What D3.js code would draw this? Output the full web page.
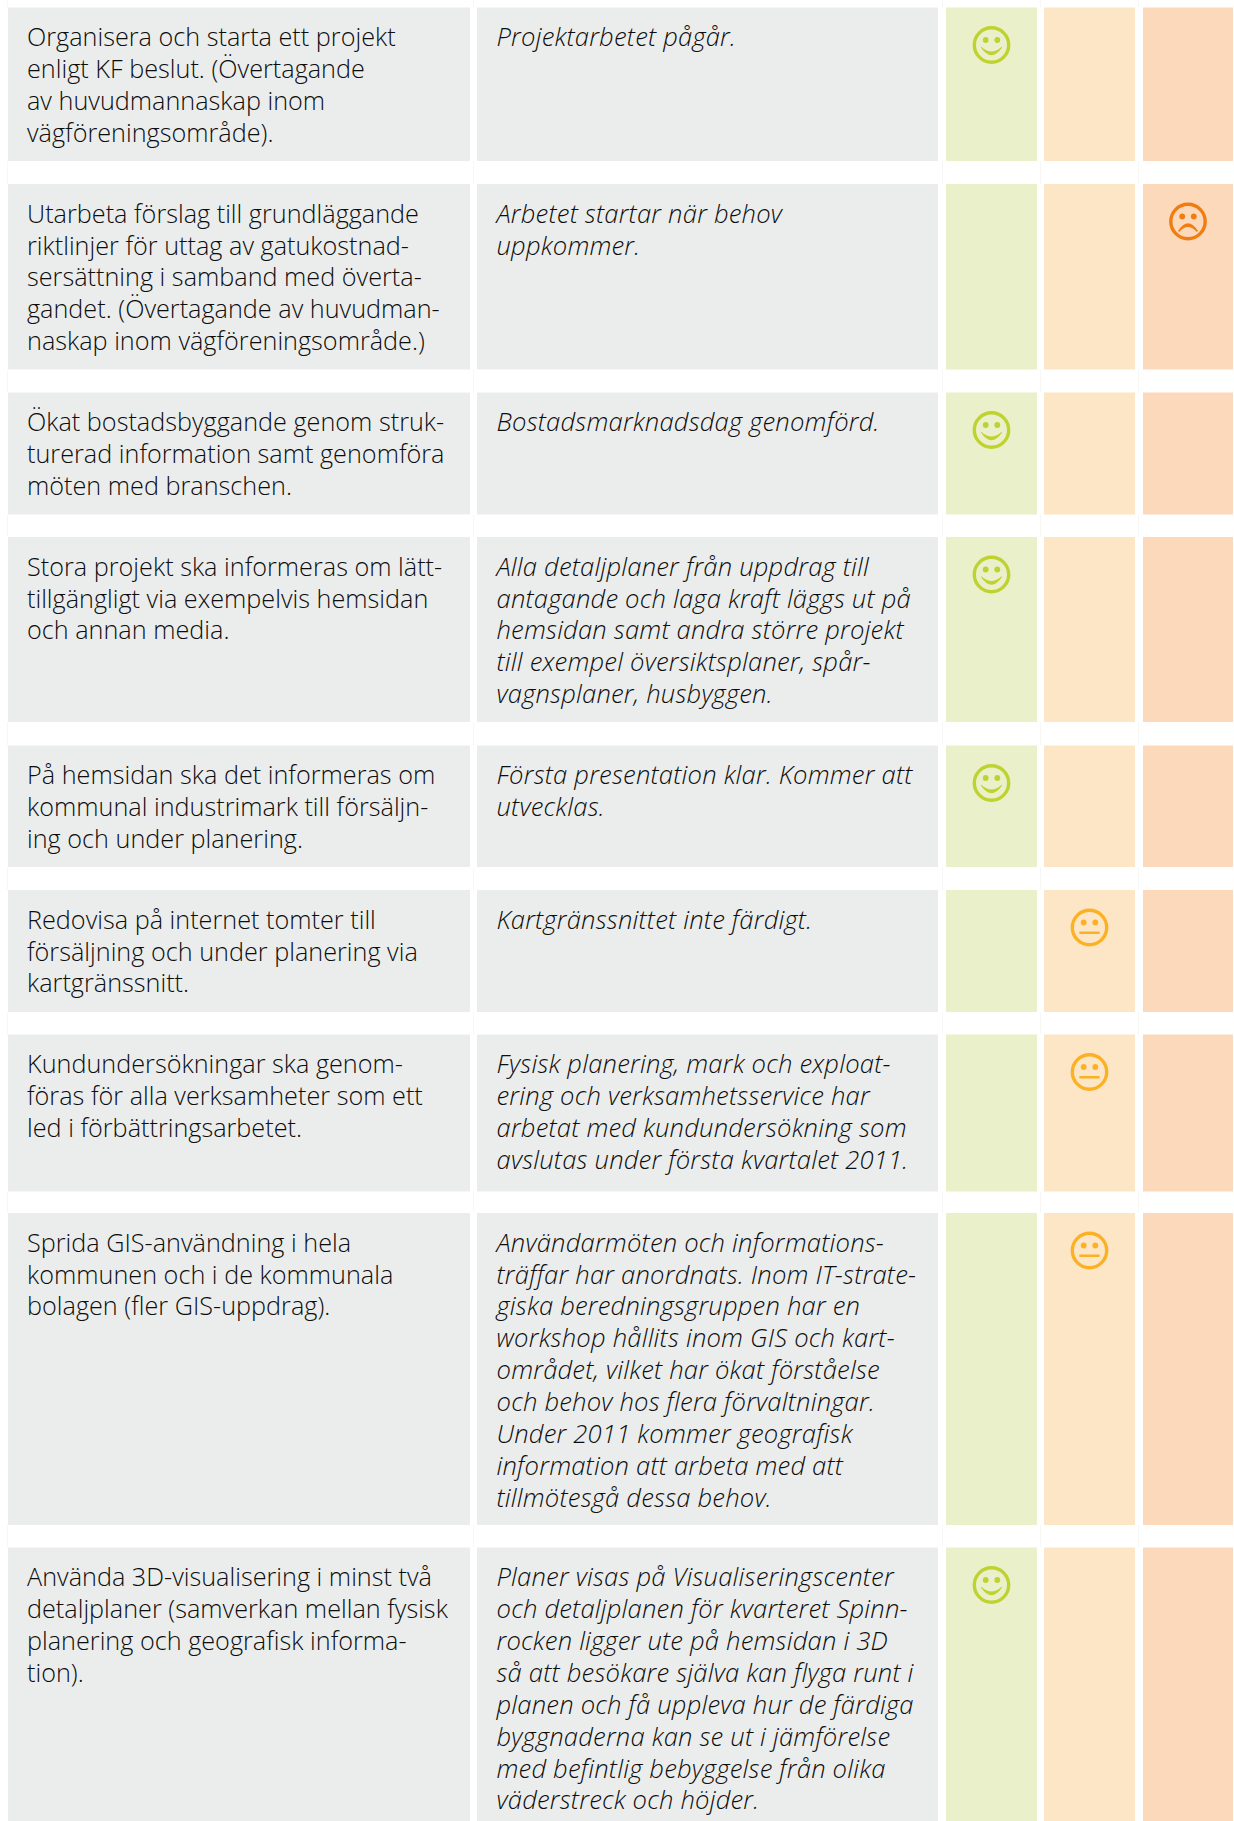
<!DOCTYPE html>
<html><head><meta charset="utf-8">
<script src="https://cdn.jsdelivr.net/npm/d3@7"></script>
<style>html,body{margin:0;padding:0;background:#fff}svg{display:block}</style>
</head><body><div id="chart"></div>
<script>
const goals = [
 ["Organisera och starta ett projekt","enligt KF beslut. (Övertagande","av huvudmannaskap inom","vägföreningsområde)."],
 ["Utarbeta förslag till grundläggande","riktlinjer för uttag av gatukostnad-","sersättning i samband med överta-","gandet. (Övertagande av huvudman-","naskap inom vägföreningsområde.)"],
 ["Ökat bostadsbyggande genom struk-","turerad information samt genomföra","möten med branschen."],
 ["Stora projekt ska informeras om lätt-","tillgängligt via exempelvis hemsidan","och annan media."],
 ["På hemsidan ska det informeras om","kommunal industrimark till försäljn-","ing och under planering."],
 ["Redovisa på internet tomter till","försäljning och under planering via","kartgränssnitt."],
 ["Kundundersökningar ska genom-","föras för alla verksamheter som ett","led i förbättringsarbetet."],
 ["Sprida GIS-användning i hela","kommunen och i de kommunala","bolagen (fler GIS-uppdrag)."],
 ["Använda 3D-visualisering i minst två","detaljplaner (samverkan mellan fysisk","planering och geografisk informa-","tion)."]
];
const comments = [
 ["Projektarbetet pågår."],
 ["Arbetet startar när behov","uppkommer."],
 ["Bostadsmarknadsdag genomförd."],
 ["Alla detaljplaner från uppdrag till","antagande och laga kraft läggs ut på","hemsidan samt andra större projekt","till exempel översiktsplaner, spår-","vagnsplaner, husbyggen."],
 ["Första presentation klar. Kommer att","utvecklas."],
 ["Kartgränssnittet inte färdigt."],
 ["Fysisk planering, mark och exploat-","ering och verksamhetsservice har","arbetat med kundundersökning som","avslutas under första kvartalet 2011."],
 ["Användarmöten och informations-","träffar har anordnats. Inom IT-strate-","giska beredningsgruppen har en","workshop hållits inom GIS och kart-","området, vilket har ökat förståelse","och behov hos flera förvaltningar.","Under 2011 kommer geografisk","information att arbeta med att","tillmötesgå dessa behov."],
 ["Planer visas på Visualiseringscenter","och detaljplanen för kvarteret Spinn-","rocken ligger ute på hemsidan i 3D","så att besökare själva kan flyga runt i","planen och få uppleva hur de färdiga","byggnaderna kan se ut i jämförelse","med befintlig bebyggelse från olika","väderstreck och höjder."]
];
const statusByRow = ["good","bad","good","good","good","mid","mid","mid","good"];

const W = 1234, H = 1821;
const rowTop    = [7.5,184,392.5,537,745.5,890,1034.5,1213,1547.5];
const rowBottom = [161,369.5,514.5,722,867,1012,1191.5,1525,1821];
const columns = [
 {key:"goal",x0:8,x1:470,fill:"#ebeded"},
 {key:"comment",x0:477,x1:938,fill:"#ebeded"},
 {key:"good",x0:946,x1:1037,fill:"#eaf0c9",icon:"#bfd230"},
 {key:"mid",x0:1044,x1:1135,fill:"#fde6c6",icon:"#fbb123"},
 {key:"bad",x0:1143,x1:1233,fill:"#fbd9ba",icon:"#f07d12"}
];
const svg = d3.select("#chart").append("svg").attr("width",W).attr("height",H);

// faint hairlines visible in the white gaps between rows
const gapStarts = [0].concat(rowBottom.slice(0,-1));
const gapEnds = rowTop;
const hairX = [7.5,473.5,942.5,1040.5,1138.5];
const gaps = svg.selectAll("g.gap").data(gapStarts.map((s,i)=>({s,e:gapEnds[i]}))).join("g").attr("class","gap");
hairX.forEach(x=>{
  gaps.append("line").attr("x1",x).attr("x2",x).attr("y1",d=>d.s).attr("y2",d=>d.e)
    .attr("stroke","#f7f7f3").attr("stroke-width",1);
});

const rows = svg.selectAll("g.row").data(goals.map((g,i)=>({g,c:comments[i],s:statusByRow[i],t:rowTop[i],b:rowBottom[i]})))
  .join("g").attr("class","row").attr("transform",d=>`translate(0,${d.t})`);
columns.forEach(col=>{
  rows.append("rect").attr("x",col.x0).attr("width",col.x1-col.x0).attr("y",0).attr("height",d=>d.b-d.t).attr("fill",col.fill);
});
const LH = 31.9;
function textBlock(sel,key,x,style,fs,ls){
  sel.each(function(d){
    const t = d3.select(this).append("text").attr("font-family","'Open Sans','Noto Sans',sans-serif")
      .attr("font-weight",300).attr("font-size",fs).attr("font-style",style).attr("letter-spacing",ls).attr("fill","#0d0d0d");
    t.selectAll("tspan").data(d[key]).join("tspan").attr("x",x).attr("y",(l,i)=>38.6+i*LH).text(l=>l);
  });
}
textBlock(rows,"g",27,"normal",25.2,0.02);
textBlock(rows,"c",496.5,"italic",25.6,0.2);
const R = 17.2, SW = 3.4;
const mouth = {
  good:"M-10.2,1.7 Q0,11.3 10.2,1.7 L10.6,2.6 Q0,18 -10.6,2.6Z",
  mid:"M-10,4.1 L10,4.1 Q10.6,5.3 10,6.5 L-10,6.5 Q-10.6,5.3 -10,4.1Z",
  bad:"M-10,9.5 Q0,-6 10,9.5 L8.8,10.5 Q0,0.3 -8.8,10.5Z"
};
rows.each(function(d){
  const col = columns.find(c=>c.key===d.s), g = d3.select(this).append("g")
    .attr("transform",`translate(${(col.x0+col.x1)/2},37.5)`);
  g.append("circle").attr("r",R).attr("fill","none").attr("stroke",col.icon).attr("stroke-width",SW);
  [-5.8,5.8].forEach(x=>g.append("circle").attr("cx",x).attr("cy",-5).attr("r",2.9).attr("fill",col.icon));
  g.append("path").attr("d",mouth[d.s]).attr("fill",col.icon);
});
</script></body></html>
